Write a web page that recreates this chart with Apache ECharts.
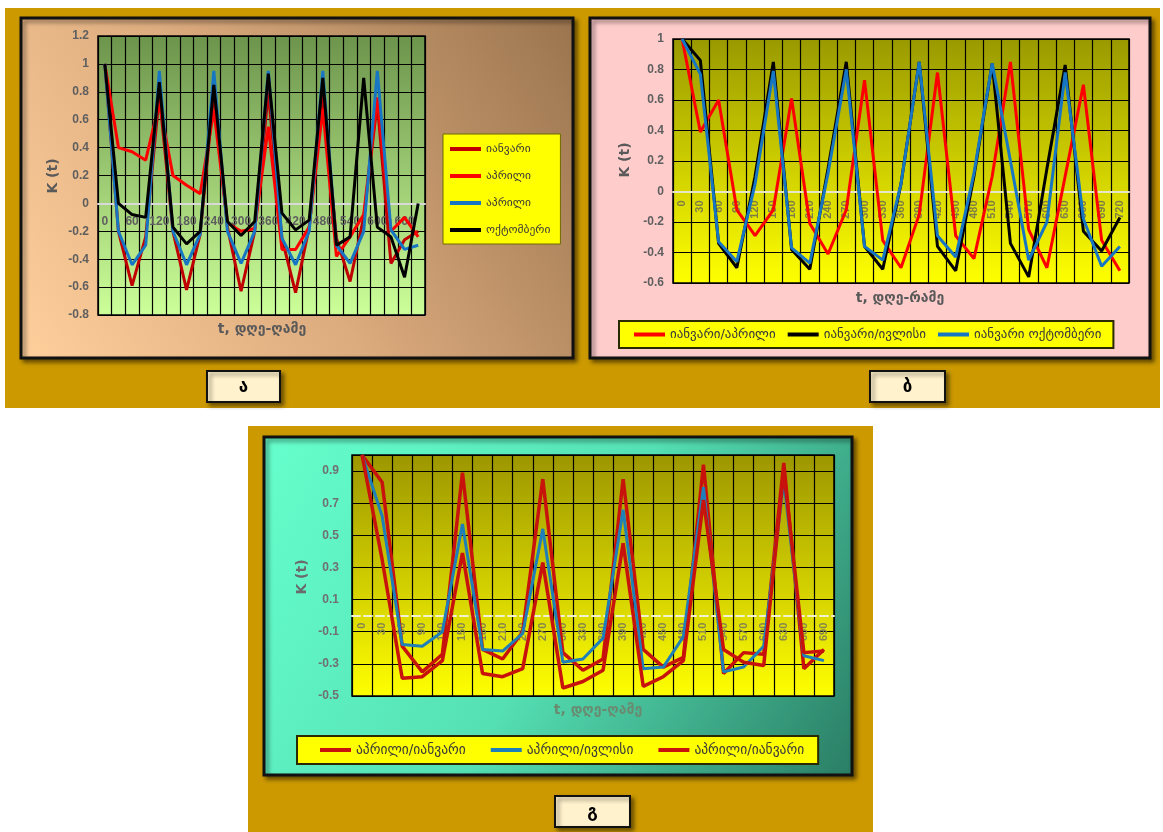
<!DOCTYPE html>
<html>
<head>
<meta charset="utf-8">
<script src="https://cdn.jsdelivr.net/npm/echarts@6/dist/echarts.min.js"></script>
<style>
  html, body { margin: 0; padding: 0; background: #ffffff; }
  #main { width: 1163px; height: 832px; }
</style>
</head>
<body>
<div id="main"></div>
<script>
// ---- categories (t, days) ----
const tDaysA = ['0','30','60','90','120','150','180','210','240','270','300','330','360','390','420','450','480','510','540','570','600','630','660','690'];
const tDaysB = ['0','30','60','90','120','150','180','210','240','270','300','330','360','390','420','450','480','510','540','570','600','630','660','690','720'];
const tDaysC = ['0','30','60','90','120','150','180','210','240','270','300','330','360','390','420','450','480','510','540','570','600','630','660','690'];

// ---- panel ა : autocorrelation by month ----
const namesA = ['იანვარი', 'აპრილი', 'აპრილი\u200b', 'ოქტომბერი'];
const janA   = [1.0, -0.2, -0.59, -0.24, 0.78, -0.2, -0.62, -0.22, 0.8, -0.17, -0.63, -0.2, 0.8, -0.25, -0.64, -0.17, 0.78, -0.25, -0.56, -0.1, 0.72, -0.43, -0.26, -0.2];
const aprRedA = [1.0, 0.4, 0.37, 0.31, 0.72, 0.2, 0.13, 0.07, 0.67, -0.14, -0.2, -0.18, 0.55, -0.33, -0.33, -0.17, 0.68, -0.38, -0.24, -0.08, 0.76, -0.2, -0.1, -0.24];
const aprBlueA = [1.0, -0.2, -0.44, -0.3, 0.95, -0.2, -0.44, -0.22, 0.95, -0.2, -0.43, -0.2, 0.95, -0.25, -0.44, -0.2, 0.95, -0.3, -0.43, -0.2, 0.95, -0.19, -0.33, -0.3];
const octA    = [1.0, 0.0, -0.08, -0.1, 0.87, -0.17, -0.29, -0.2, 0.85, -0.13, -0.23, -0.13, 0.93, -0.07, -0.19, -0.12, 0.9, -0.3, -0.24, 0.9, -0.17, -0.24, -0.53, 0.0];

// ---- panel ბ : cross-correlation with January ----
const namesB = ['იანვარი/აპრილი', 'იანვარი/ივლისი', 'იანვარი ოქტომბერი'];
const janAprB = [1.0, 0.39, 0.6, -0.12, -0.29, -0.12, 0.61, -0.21, -0.41, -0.12, 0.73, -0.32, -0.5, -0.15, 0.78, -0.29, -0.44, 0.1, 0.85, -0.25, -0.5, 0.1, 0.7, -0.32, -0.52];
const janJulB = [1.0, 0.86, -0.34, -0.5, 0.1, 0.85, -0.38, -0.51, 0.15, 0.85, -0.36, -0.51, 0.05, 0.85, -0.36, -0.52, 0.1, 0.84, -0.34, -0.56, 0.15, 0.83, -0.26, -0.39, -0.17];
const janOctB = [1.0, 0.77, -0.33, -0.46, 0.05, 0.79, -0.37, -0.47, 0.12, 0.8, -0.36, -0.45, 0.05, 0.85, -0.29, -0.43, 0.12, 0.84, 0.2, -0.45, -0.2, 0.78, -0.18, -0.49, -0.36];

// ---- panel გ : cross-correlation with April ----
const namesC = ['აპრილი/იანვარი', 'აპრილი/ივლისი', 'აპრილი/იანვარი\u200b'];
const aprJanC1 = [1.0, 0.83, -0.19, -0.35, -0.24, 0.89, -0.21, -0.27, -0.1, 0.85, -0.23, -0.34, -0.27, 0.85, -0.21, -0.32, -0.26, 0.94, -0.36, -0.23, -0.24, 0.95, -0.33, -0.21];
const aprJulC  = [1.0, 0.62, -0.18, -0.19, -0.1, 0.57, -0.21, -0.22, -0.11, 0.54, -0.29, -0.27, -0.14, 0.66, -0.33, -0.32, -0.13, 0.8, -0.35, -0.32, -0.19, 0.84, -0.25, -0.28];
const aprJanC2 = [1.0, 0.35, -0.39, -0.38, -0.28, 0.39, -0.36, -0.38, -0.33, 0.33, -0.45, -0.41, -0.34, 0.45, -0.44, -0.38, -0.28, 0.72, -0.21, -0.29, -0.31, 0.9, -0.23, -0.22];

const GEO = "'DejaVu Sans', 'Noto Sans', sans-serif";
const NUM = "'Liberation Sans', Arial, sans-serif";

const chart = echarts.init(document.getElementById('main'), null, { renderer: 'canvas' });

function vgrad(top, bottom) {
  return new echarts.graphic.LinearGradient(0, 0, 0, 1, [
    { offset: 0, color: top }, { offset: 1, color: bottom }
  ]);
}

// plot rectangles and value ranges of the three panels
const grids = [
  { left: 98, top: 36, width: 327, height: 279, min: -0.8, max: 1.2 },
  { left: 673, top: 39, width: 456, height: 244, min: -0.6, max: 1.0 },
  { left: 352, top: 455, width: 482, height: 241, min: -0.5, max: 1.0 }
];
// the category axis sits on the K = 0 line, with its labels just under it
function zeroOffset(g) {
  return -g.height * (0 - g.min) / (g.max - g.min);
}

function xAxisOf(gridIndex, cats, opts) {
  return {
    type: 'category', gridIndex, data: cats, boundaryGap: true, position: 'bottom',
    offset: zeroOffset(grids[gridIndex]),
    axisLine: { show: true, onZero: false, lineStyle: { color: opts.zeroColor, width: 2, type: opts.zeroType || 'solid' } },
    axisTick: { show: false },
    splitLine: { show: true, interval: 0, lineStyle: { color: '#000', width: 1.2 } },
    axisLabel: {
      interval: opts.labelInterval, rotate: opts.rotate, margin: opts.margin,
      color: opts.labelColor, fontSize: opts.fontSize, fontWeight: 'bold', fontFamily: NUM
    }
  };
}

function yAxisOf(gridIndex, opts) {
  const g = grids[gridIndex];
  return {
    type: 'value', gridIndex, min: g.min, max: g.max, interval: 0.2,
    axisLine: { show: false }, axisTick: { show: false },
    splitLine: { show: true, lineStyle: { color: '#000', width: 1.2 } },
    axisLabel: {
      margin: opts.margin, color: opts.labelColor, fontSize: 12, fontWeight: 'bold',
      fontFamily: NUM, showMaxLabel: opts.showMax
    }
  };
}

function lineSeries(name, data, color, idx, width) {
  return {
    type: 'line', name, data, xAxisIndex: idx, yAxisIndex: idx,
    symbol: 'none', smooth: false,
    lineStyle: { color, width: width || 3 }, itemStyle: { color },
    emphasis: { disabled: true }
  };
}

function legendOf(data, pos, fontSize) {
  return Object.assign({
    data, icon: 'rect', itemWidth: 31, itemHeight: 4, itemGap: 15,
    backgroundColor: '#ffff00', borderColor: '#2a2a00', borderWidth: 2,
    textStyle: { fontFamily: GEO, fontSize: fontSize, color: '#3a3a3a' },
    formatter: n => n.replace('\u200b', ''),
    selectedMode: false
  }, pos);
}

const shadow = { shadowBlur: 4, shadowOffsetX: 3, shadowOffsetY: 3, shadowColor: 'rgba(0,0,0,0.45)' };

function titleText(text, x, y, rotated, color) {
  return {
    type: 'text', x, y, rotation: rotated ? Math.PI / 2 : 0, z: 5,
    style: { text, fill: color || '#595959', fontSize: 14, fontWeight: 'bold', fontFamily: GEO,
             textAlign: 'center', textVerticalAlign: 'middle' }
  };
}

function tagBox(x, y, w, h, letter) {
  return [
    { type: 'rect', z: 1, shape: { x, y, width: w, height: h },
      style: Object.assign({ fill: '#fff2cc', stroke: '#111', lineWidth: 2 }, shadow) },
    { type: 'text', z: 2, x: x + w / 2, y: y + h / 2 + 1,
      style: { text: letter, fill: '#000', fontSize: 17, fontWeight: 'bold', fontFamily: GEO,
               textAlign: 'center', textVerticalAlign: 'middle' } }
  ];
}

const option = {
  animation: false,
  backgroundColor: '#ffffff',
  grid: [
    { left: grids[0].left, top: grids[0].top, width: grids[0].width, height: grids[0].height, show: true,
      backgroundColor: vgrad('#6c944c', '#ccff99'), borderColor: '#000', borderWidth: 1.5 },
    { left: grids[1].left, top: grids[1].top, width: grids[1].width, height: grids[1].height, show: true,
      backgroundColor: vgrad('#999900', '#ffff00'), borderColor: '#000', borderWidth: 1.5 },
    { left: grids[2].left, top: grids[2].top, width: grids[2].width, height: grids[2].height, show: true,
      backgroundColor: vgrad('#9c9600', '#ffff00'), borderColor: '#000', borderWidth: 1.5 }
  ],
  xAxis: [
    xAxisOf(0, tDaysA, { zeroColor: '#d9d9d9', labelInterval: 1, rotate: 0, margin: 12, labelColor: '#5f5f5f', fontSize: 12 }),
    xAxisOf(1, tDaysB, { zeroColor: '#e6e6c8', labelInterval: 0, rotate: 90, margin: 9, labelColor: '#7d7d45', fontSize: 11 }),
    xAxisOf(2, tDaysC, { zeroColor: '#f2f2d0', zeroType: 'dashed', labelInterval: 0, rotate: 90, margin: 7, labelColor: '#858550', fontSize: 11 })
  ],
  yAxis: [
    yAxisOf(0, { margin: 9, labelColor: '#5f5f5f', showMax: true }),
    yAxisOf(1, { margin: 9, labelColor: '#5f5f5f', showMax: true }),
    yAxisOf(2, { margin: 13, labelColor: '#707070', showMax: false })
  ],
  legend: [
    legendOf(namesA, { orient: 'vertical', left: 443, top: 134, itemGap: 15, padding: [9, 10, 8, 7],
      borderColor: '#6b6b00', borderWidth: 1 }, 11.5),
    legendOf(namesB, { orient: 'horizontal', left: 619, top: 321, itemGap: 12, padding: [7, 12, 7, 15] }, 13),
    legendOf(namesC, { orient: 'horizontal', left: 297, top: 736, itemGap: 25, padding: [7, 14, 7, 23] }, 13.5)
  ],
  series: [
    lineSeries(namesA[0], janA, '#c00000', 0),
    lineSeries(namesA[1], aprRedA, '#ff0000', 0),
    lineSeries(namesA[2], aprBlueA, '#1776c4', 0),
    lineSeries(namesA[3], octA, '#000000', 0),
    lineSeries(namesB[0], janAprB, '#ff0000', 1),
    lineSeries(namesB[1], janJulB, '#000000', 1),
    lineSeries(namesB[2], janOctB, '#1776c4', 1),
    lineSeries(namesC[0], aprJanC1, '#c8120c', 2, 3.5),
    lineSeries(namesC[1], aprJulC, '#1f7fb8', 2, 3),
    lineSeries(namesC[2], aprJanC2, '#c8120c', 2, 3.5)
  ],
  graphic: [
    // gold backdrops
    { type: 'rect', z: -20, shape: { x: 5, y: 8, width: 1155, height: 400 }, style: { fill: '#cc9900' } },
    { type: 'rect', z: -20, shape: { x: 248, y: 426, width: 625, height: 406 }, style: { fill: '#cc9900' } },
    // chart panels
    { type: 'rect', z: -10, shape: { x: 21, y: 18, width: 552, height: 340 },
      style: Object.assign({
        fill: new echarts.graphic.LinearGradient(0, 1, 1, 0, [
          { offset: 0, color: '#ffcf9c' }, { offset: 0.45, color: '#dcab7e' }, { offset: 1, color: '#9a744e' }
        ]), stroke: '#111', lineWidth: 3 }, shadow) },
    { type: 'rect', z: -10, shape: { x: 590, y: 18, width: 560, height: 340 },
      style: Object.assign({ fill: '#ffcccc', stroke: '#111', lineWidth: 3 }, shadow) },
    { type: 'rect', z: -10, shape: { x: 264, y: 437, width: 588, height: 338 },
      style: Object.assign({
        fill: new echarts.graphic.LinearGradient(0, 0, 1, 1, [
          { offset: 0, color: '#66ffcc' }, { offset: 0.5, color: '#55e0b4' }, { offset: 1, color: '#2a7d64' }
        ]), stroke: '#111', lineWidth: 3 }, shadow) },
    // axis titles
    titleText('K (t)', 53, 176, true),
    titleText('t, დღე-ღამე', 262, 329, false),
    titleText('K (t)', 625, 160, true),
    titleText('t, დღე-რამე', 900, 298, false),
    titleText('K (t)', 302, 577, true, '#6a6a6a'),
    titleText('t, დღე-ღამე', 598, 710, false, '#6a8a70'),
    // panel letters
    ...tagBox(207, 371, 73, 31, 'ა'),
    ...tagBox(870, 371, 75, 31, 'ბ'),
    ...tagBox(555, 796, 75, 31, 'გ')
  ]
};

chart.setOption(option);
</script>
</body>
</html>
